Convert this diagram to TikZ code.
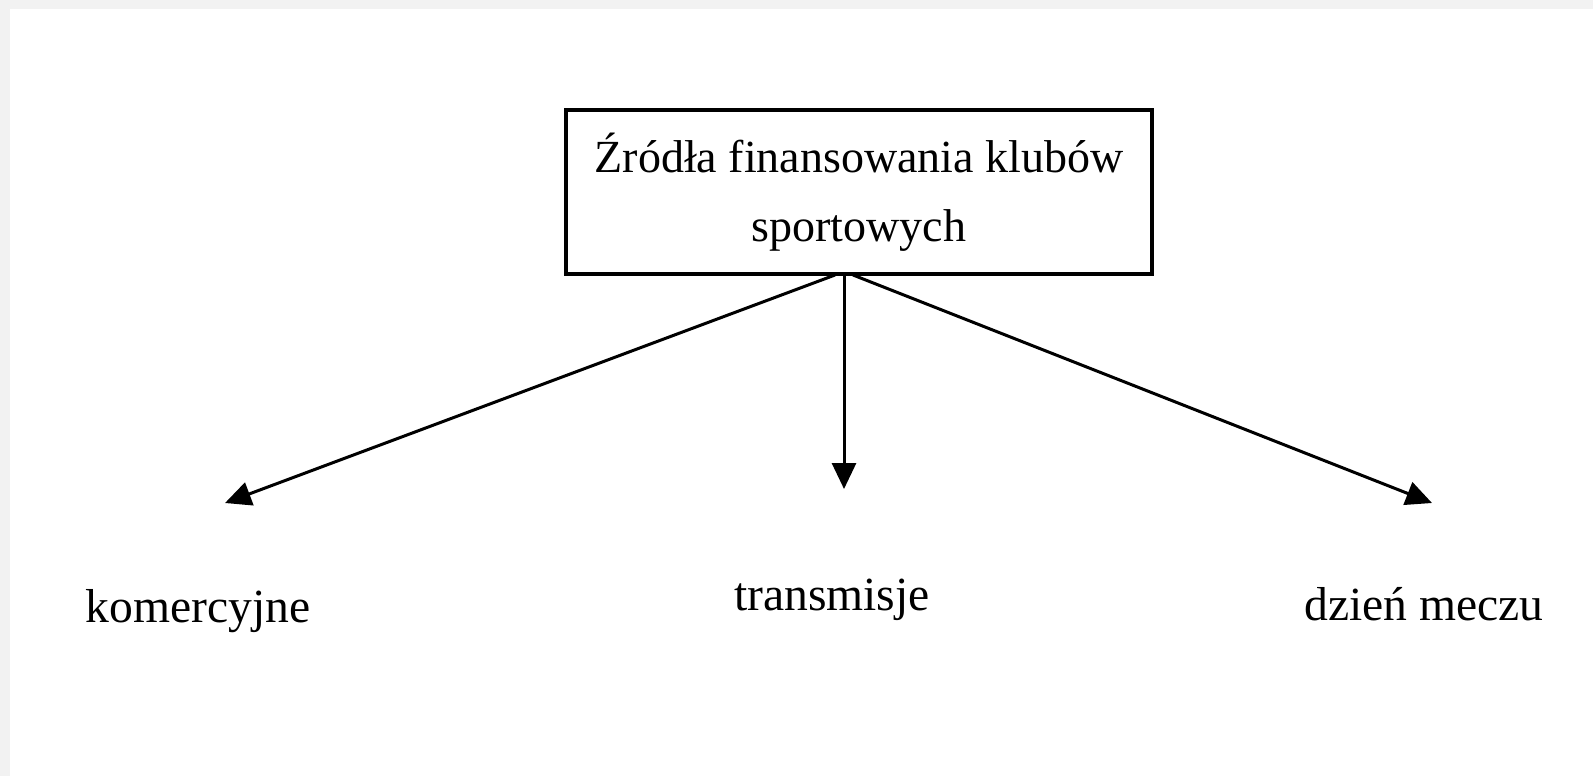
\documentclass[tikz,border=0pt]{standalone}
\usepackage{fontspec}
\setmainfont{Liberation Serif}
\usetikzlibrary{arrows.meta}
\definecolor{framegray}{RGB}{242,242,242}
\tikzset{
  lbl/.style={anchor=base, inner sep=0pt, font=\fontsize{23.8}{28}\selectfont},
  titlebox/.style={draw, line width=1.7pt, minimum width=293pt, minimum height=82pt, inner sep=0pt, align=center, font=\fontsize{23}{34.5}\selectfont},
  arr/.style={line width=1.5pt, -{Triangle[length=13pt,width=12pt]}}
}
\begin{document}
\begin{tikzpicture}[x=0.5pt,y=-0.5pt]
\useasboundingbox (0,0) rectangle (1593,776);
\fill[white] (0,0) rectangle (1593,776);
\fill[framegray] (0,0) rectangle (1593,9);
\fill[framegray] (0,0) rectangle (10,776);
\node[titlebox] (box) at (859,192) {Źródła finansowania klubów\\sportowych};
\coordinate (s1) at (835,275);
\coordinate (s2) at (844,275);
\coordinate (s3) at (853,275);
\coordinate (t1) at (225,503);
\coordinate (t2) at (844,489);
\coordinate (t3) at (1432,503);
\draw[arr] (s1) -- (t1);
\draw[arr] (s2) -- (t2);
\draw[arr] (s3) -- (t3);
\node[lbl] (k) at (198,622) {komercyjne};
\node[lbl] (t) at (832,610) {transmisje};
\node[lbl] (d) at (1424,620) {dzień meczu};
\end{tikzpicture}
\end{document}
